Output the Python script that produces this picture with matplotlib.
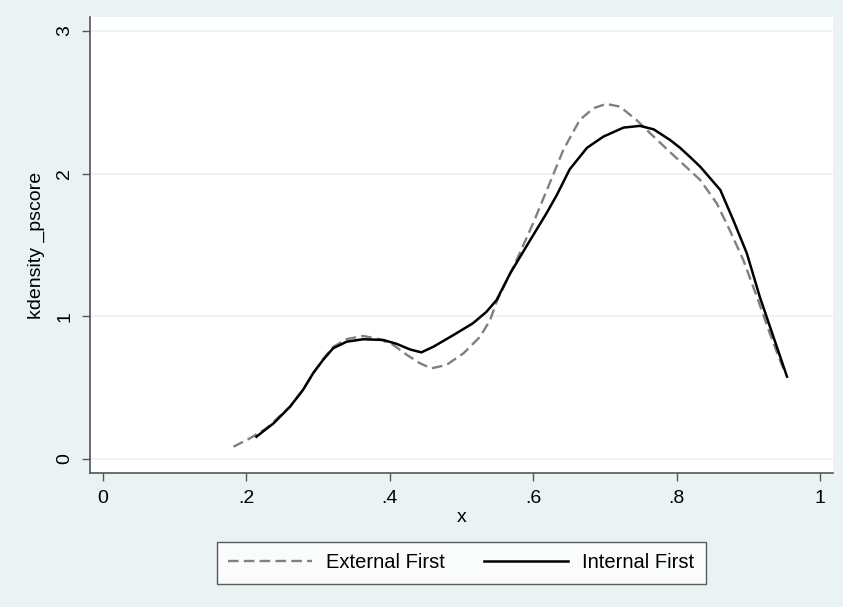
import matplotlib
matplotlib.use("Agg")
import matplotlib.pyplot as plt

plt.rcParams['font.family'] = ['Liberation Sans', 'DejaVu Sans']

# values (x, kernel density)
ext_x = [0.182, 0.205, 0.228, 0.261, 0.279, 0.293, 0.307, 0.321, 0.340, 0.363,
         0.386, 0.405, 0.424, 0.442, 0.458, 0.479, 0.503, 0.526, 0.540, 0.549,
         0.577, 0.600, 0.623, 0.642, 0.665, 0.684, 0.702, 0.721, 0.744, 0.768,
         0.791, 0.805, 0.819, 0.833, 0.856, 0.874, 0.893, 0.912, 0.930, 0.944, 0.950]
ext_y = [0.086, 0.145, 0.215, 0.367, 0.484, 0.600, 0.700, 0.785, 0.840, 0.862,
         0.839, 0.799, 0.729, 0.671, 0.635, 0.659, 0.741, 0.857, 0.974, 1.102,
         1.395, 1.652, 1.932, 2.165, 2.376, 2.458, 2.488, 2.469, 2.376, 2.259,
         2.150, 2.085, 2.020, 1.955, 1.792, 1.605, 1.395, 1.137, 0.881, 0.694, 0.620]

int_x = [0.214, 0.238, 0.261, 0.279, 0.293, 0.307, 0.321, 0.340, 0.363, 0.391,
         0.410, 0.428, 0.444, 0.461, 0.489, 0.516, 0.535, 0.549, 0.568, 0.596,
         0.619, 0.633, 0.651, 0.675, 0.698, 0.726, 0.749, 0.768, 0.791, 0.805,
         0.819, 0.833, 0.861, 0.879, 0.898, 0.916, 0.935, 0.954]
int_y = [0.156, 0.250, 0.367, 0.484, 0.600, 0.694, 0.776, 0.822, 0.839, 0.834,
         0.806, 0.768, 0.747, 0.787, 0.869, 0.951, 1.032, 1.114, 1.301, 1.535,
         1.725, 1.850, 2.030, 2.180, 2.259, 2.322, 2.334, 2.310, 2.235, 2.180,
         2.115, 2.048, 1.885, 1.675, 1.441, 1.137, 0.857, 0.577]

xticks = [0, 0.2, 0.4, 0.6, 0.8, 1]
xtick_labels = ['0', '.2', '.4', '.6', '.8', '1']
yticks = [0, 1, 2, 3]

bg = '#eaf2f3'
fig = plt.figure(figsize=(8.43, 6.07), dpi=100, facecolor=bg)
ax = fig.add_axes([0.1068, 0.2208, 0.8812, 0.7512])
ax.set_facecolor('white')

ax.plot(ext_x, ext_y, color='#808080', lw=1.7, ls=(0, (4.5, 2.2)),
        dash_capstyle='butt', label='External First')
ax.plot(int_x, int_y, color='black', lw=1.8, solid_joinstyle='round',
        label='Internal First')

ax.set_xlim(-0.018, 1.018)
ax.set_ylim(-0.098, 3.097)
ax.set_xticks(xticks)
ax.set_xticklabels(xtick_labels)
ax.set_yticks(yticks)
ax.set_yticklabels([str(v) for v in yticks], rotation=90, va='center')
ax.tick_params(labelsize=14, length=6, width=1, color='#555555', pad=6)

for y in yticks:
    ax.axhline(y, color=bg, lw=1.2, zorder=0)

for side in ['top', 'right']:
    ax.spines[side].set_visible(False)
for side in ['left', 'bottom']:
    ax.spines[side].set_color('#555555')
    ax.spines[side].set_linewidth(1.2)

ax.set_xlabel('x', fontsize=14, labelpad=2)
ax.set_ylabel('kdensity _pscore', fontsize=14, labelpad=8)

leg = fig.legend(loc='center', bbox_to_anchor=(0.547, 0.0725), ncol=2,
                 fontsize=14.5, frameon=True, fancybox=False, handlelength=4.2,
                 handletextpad=0.7, columnspacing=1.9, borderpad=0.55)
leg.get_frame().set_edgecolor('#333333')
leg.get_frame().set_linewidth(1.0)

fig.savefig('out.png', dpi=100, facecolor=bg)
